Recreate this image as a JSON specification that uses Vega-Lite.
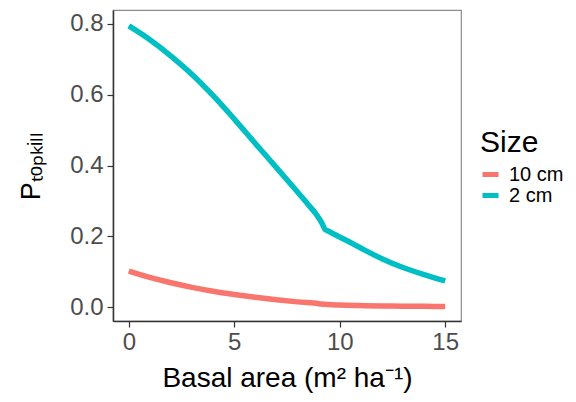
{
  "$schema": "https://vega.github.io/schema/vega-lite/v6.json",
  "width": 348,
  "height": 311,
  "autosize": {"type": "none"},
  "padding": {"left": 113, "top": 10, "right": 115, "bottom": 81},
  "background": "white",
  "config": {
    "font": "Liberation Sans",
    "view": {"stroke": "#8c8c8c", "strokeWidth": 1.2},
    "axis": {"grid": false}
  },
  "data": {
    "values": [
      {"ba": 0, "p": 0.794, "size": "2 cm"},
      {"ba": 1, "p": 0.755, "size": "2 cm"},
      {"ba": 2, "p": 0.709, "size": "2 cm"},
      {"ba": 3, "p": 0.657, "size": "2 cm"},
      {"ba": 4, "p": 0.597, "size": "2 cm"},
      {"ba": 5, "p": 0.531, "size": "2 cm"},
      {"ba": 6, "p": 0.462, "size": "2 cm"},
      {"ba": 7, "p": 0.394, "size": "2 cm"},
      {"ba": 8, "p": 0.325, "size": "2 cm"},
      {"ba": 8.5, "p": 0.29, "size": "2 cm"},
      {"ba": 8.9, "p": 0.261, "size": "2 cm"},
      {"ba": 9.15, "p": 0.238, "size": "2 cm"},
      {"ba": 9.3, "p": 0.22, "size": "2 cm"},
      {"ba": 9.45, "p": 0.2152, "size": "2 cm"},
      {"ba": 10.4, "p": 0.186, "size": "2 cm"},
      {"ba": 11, "p": 0.167, "size": "2 cm"},
      {"ba": 12, "p": 0.137, "size": "2 cm"},
      {"ba": 13, "p": 0.112, "size": "2 cm"},
      {"ba": 14, "p": 0.092, "size": "2 cm"},
      {"ba": 15, "p": 0.074, "size": "2 cm"},
      {"ba": 0, "p": 0.102, "size": "10 cm"},
      {"ba": 1, "p": 0.084, "size": "10 cm"},
      {"ba": 2, "p": 0.069, "size": "10 cm"},
      {"ba": 3, "p": 0.056, "size": "10 cm"},
      {"ba": 4, "p": 0.045, "size": "10 cm"},
      {"ba": 5, "p": 0.036, "size": "10 cm"},
      {"ba": 6, "p": 0.028, "size": "10 cm"},
      {"ba": 7, "p": 0.021, "size": "10 cm"},
      {"ba": 8, "p": 0.015, "size": "10 cm"},
      {"ba": 9, "p": 0.01, "size": "10 cm"},
      {"ba": 9.3, "p": 0.008, "size": "10 cm"},
      {"ba": 10, "p": 0.006, "size": "10 cm"},
      {"ba": 11, "p": 0.0045, "size": "10 cm"},
      {"ba": 12, "p": 0.0035, "size": "10 cm"},
      {"ba": 13, "p": 0.0028, "size": "10 cm"},
      {"ba": 14, "p": 0.0023, "size": "10 cm"},
      {"ba": 15, "p": 0.002, "size": "10 cm"}
    ]
  },
  "mark": {"type": "line", "strokeWidth": 5.5, "strokeCap": "butt", "strokeJoin": "round", "interpolate": "monotone", "clip": true},
  "encoding": {
    "x": {
      "field": "ba", "type": "quantitative",
      "scale": {"domain": [-0.75, 15.75], "nice": false, "zero": false},
      "axis": {
        "values": [0, 5, 10, 15], "format": "d",
        "title": "Basal area (m² ha⁻¹)",
        "titleFontSize": 28, "titleFontWeight": "normal", "titleColor": "black",
        "titlePadding": 10,
        "labelFontSize": 24, "labelColor": "#4d4d4d", "labelPadding": 3,
        "tickSize": 6, "tickColor": "#333333", "tickWidth": 1.2,
        "domainColor": "#333333", "domainWidth": 1.5
      }
    },
    "y": {
      "field": "p", "type": "quantitative",
      "scale": {"domain": [-0.039, 0.839], "nice": false, "zero": false},
      "axis": {
        "values": [0, 0.2, 0.4, 0.6, 0.8], "format": ".1f",
        "title": "Pₜₒₚₖᵢₗₗ",
        "titleFontSize": 27, "titleFontWeight": "normal", "titleColor": "black",
        "titlePadding": 24,
        "labelFontSize": 24, "labelColor": "#4d4d4d", "labelPadding": 4,
        "tickSize": 6, "tickColor": "#333333", "tickWidth": 1.2,
        "domainColor": "#333333", "domainWidth": 1.5
      }
    },
    "color": {
      "field": "size", "type": "nominal",
      "scale": {"domain": ["10 cm", "2 cm"], "range": ["#F8766D", "#00BFC4"]},
      "legend": {
        "title": "Size", "orient": "none", "legendX": 367, "legendY": 118,
        "titleFontSize": 30, "titleFontWeight": "normal", "titleColor": "black",
        "titlePadding": 6,
        "labelFontSize": 20, "labelColor": "black",
        "symbolType": "stroke", "symbolStrokeWidth": 5, "symbolSize": 256,
        "rowPadding": 0, "labelOffset": 8
      }
    }
  }
}
